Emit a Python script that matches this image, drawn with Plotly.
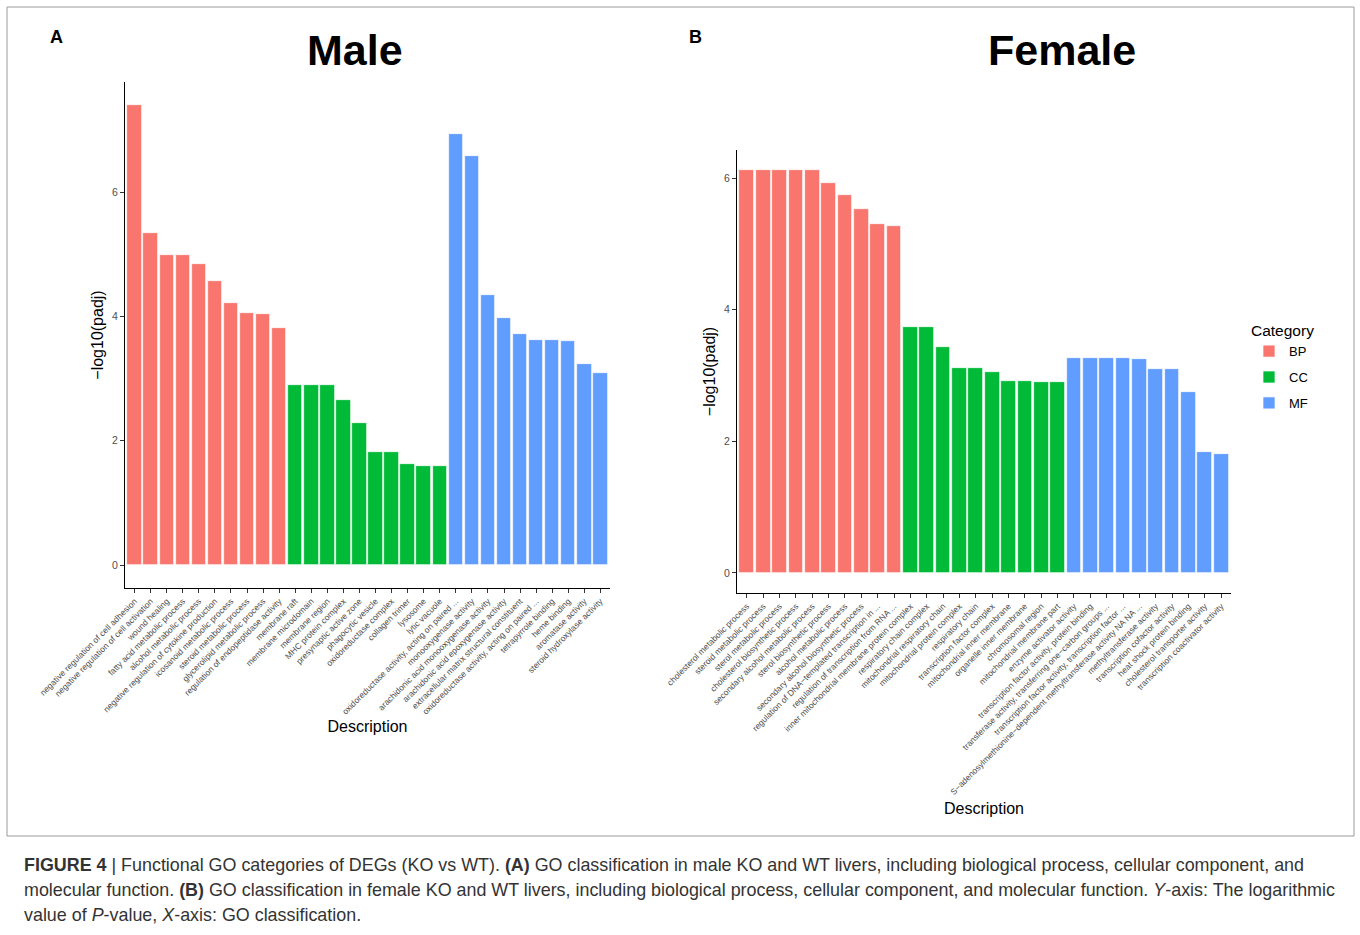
import plotly.graph_objects as go

# ---------------- data ----------------
categories = ["BP", "CC", "MF"]
cat_colors = {"BP": "#F8766D", "CC": "#00BA38", "MF": "#619CFF"}

male_bp_terms = ["negative regulation of cell adhesion", "negative regulation of cell activation",
                 "wound healing", "fatty acid metabolic process", "alcohol metabolic process",
                 "negative regulation of cytokine production", "icosanoid metabolic process",
                 "steroid metabolic process", "glycerolipid metabolic process",
                 "regulation of endopeptidase activity"]
male_bp_vals = [7.40, 5.34, 4.99, 4.99, 4.85, 4.57, 4.22, 4.06, 4.04, 3.81]

male_cc_terms = ["membrane raft", "membrane microdomain", "membrane region", "MHC protein complex",
                 "presynaptic active zone", "phagocytic vesicle", "oxidoreductase complex",
                 "collagen trimer", "lysosome", "lytic vacuole"]
male_cc_vals = [2.89, 2.89, 2.89, 2.66, 2.29, 1.81, 1.81, 1.63, 1.60, 1.60]

male_mf_terms = ["oxidoreductase activity, acting on paired ...", "monooxygenase activity",
                 "arachidonic acid monooxygenase activity", "arachidonic acid epoxygenase activity",
                 "extracellular matrix structural constituent",
                 "oxidoreductase activity, acting on paired ...", "tetrapyrrole binding",
                 "heme binding", "aromatase activity", "steroid hydroxylase activity"]
male_mf_vals = [6.93, 6.58, 4.35, 3.98, 3.71, 3.62, 3.62, 3.61, 3.23, 3.09]

female_bp_terms = ["cholesterol metabolic process", "steroid metabolic process", "sterol metabolic process",
                   "cholesterol biosynthetic process", "secondary alcohol metabolic process",
                   "sterol biosynthetic process", "alcohol metabolic process",
                   "secondary alcohol biosynthetic process",
                   "regulation of DNA\u2212templated transcription in ...",
                   "regulation of transcription from RNA ..."]
female_bp_vals = [6.12, 6.12, 6.12, 6.12, 6.12, 5.93, 5.74, 5.54, 5.30, 5.27]

female_cc_terms = ["inner mitochondrial membrane protein complex", "respiratory chain complex",
                   "mitochondrial respiratory chain", "mitochondrial protein complex", "respiratory chain",
                   "transcription factor complex", "mitochondrial inner membrane",
                   "organelle inner membrane", "chromosomal region", "mitochondrial membrane part"]
female_cc_vals = [3.74, 3.74, 3.43, 3.11, 3.11, 3.05, 2.92, 2.92, 2.91, 2.91]

female_mf_terms = ["enzyme activator activity", "transcription factor activity, protein binding",
                   "transferase activity, transferring one\u2212carbon groups ...",
                   "transcription factor activity, transcription factor ...",
                   "S\u2212adenosylmethionine\u2212dependent methyltransferase activity NA NA ...",
                   "methyltransferase activity", "transcription cofactor activity",
                   "heat shock protein binding", "cholesterol transporter activity",
                   "transcription coactivator activity"]
female_mf_vals = [3.27, 3.27, 3.27, 3.27, 3.25, 3.10, 3.10, 2.75, 1.84, 1.81]

y_ticks = [0, 2, 4, 6]

male = {"BP": (male_bp_terms, male_bp_vals), "CC": (male_cc_terms, male_cc_vals),
        "MF": (male_mf_terms, male_mf_vals)}
female = {"BP": (female_bp_terms, female_bp_vals), "CC": (female_cc_terms, female_cc_vals),
          "MF": (female_mf_terms, female_mf_vals)}

FONT = "Liberation Sans, Arial, Helvetica, sans-serif"
W, H = 1360, 935

fig = go.Figure()


def add_panel(panel, xa, ya, show_legend):
    terms_all = []
    idx = 0
    for cat in categories:
        terms, vals = panel[cat]
        xs = list(range(idx, idx + len(vals)))
        idx += len(vals)
        terms_all += terms
        fig.add_trace(go.Bar(
            x=xs, y=vals, name=cat, legendgroup=cat, showlegend=show_legend,
            marker=dict(color=cat_colors[cat], line=dict(color="white", width=0.7)),
            width=0.9, xaxis=xa, yaxis=ya,
        ))
    return terms_all


male_terms = add_panel(male, "x", "y", False)
female_terms = add_panel(female, "x2", "y2", True)

line_common = dict(showline=True, linecolor="black", linewidth=1, ticks="outside", ticklen=4,
                   tickcolor="#333333", showgrid=False, zeroline=False, automargin=False)
ytick_font = dict(family=FONT, size=10.5, color="#4D4D4D")
xtick_font = dict(family=FONT, size=8.5, color="#4D4D4D")
title_font = dict(family=FONT, size=16, color="black")

fig.update_layout(
    width=W, height=H, autosize=False,
    margin=dict(l=0, r=0, t=0, b=0, autoexpand=False),
    paper_bgcolor="white", plot_bgcolor="white",
    font=dict(family=FONT, color="black"),
    bargap=0,
    xaxis=dict(domain=[125 / W, 610 / W], anchor="y", range=[-0.6, 29.6],
               tickvals=list(range(len(male_terms))), ticktext=male_terms, tickangle=-45,
               tickfont=xtick_font,
               title=dict(text="Description", font=title_font, standoff=5),
               **line_common),
    yaxis=dict(domain=[1 - 588 / H, 1 - 82 / H], anchor="x", range=[-0.37, 7.77],
               tickvals=y_ticks, tickfont=ytick_font,
               title=dict(text="\u2212log10(padj)", font=title_font, standoff=4),
               **line_common),
    xaxis2=dict(domain=[737 / W, 1231 / W], anchor="y2", range=[-0.6, 29.6],
                tickvals=list(range(len(female_terms))), ticktext=female_terms, tickangle=-45,
                tickfont=xtick_font,
                title=dict(text="Description", font=title_font, standoff=6),
                **line_common),
    yaxis2=dict(domain=[1 - 593 / H, 1 - 150 / H], anchor="x2", range=[-0.306, 6.43],
                tickvals=y_ticks, tickfont=ytick_font,
                title=dict(text="\u2212log10(padj)", font=title_font, standoff=4),
                **line_common),
    legend=dict(x=1249 / W, y=1 - 316 / H, xanchor="left", yanchor="top",
                title=dict(text="Category", font=dict(family=FONT, size=15.5, color="black")),
                font=dict(family=FONT, size=13, color="black"), tracegroupgap=6,
                itemwidth=30, bgcolor="rgba(0,0,0,0)"),
)

ann = []
for txt, xpx, ypx, size in [("<b>Male</b>", 355, 50, 43), ("<b>Female</b>", 1062, 50, 43),
                            ("<b>A</b>", 56, 37, 18), ("<b>B</b>", 695, 37, 18)]:
    ann.append(dict(text=txt, x=xpx / W, y=1 - ypx / H, xref="paper", yref="paper",
                    xanchor="center", yanchor="middle", showarrow=False,
                    font=dict(size=size, color="black", family=FONT)))

caption_lines = [
    "<b>FIGURE 4</b> | Functional GO categories of DEGs (KO vs WT). <b>(A)</b> GO classification in male KO and WT livers, including biological process, cellular component, and",
    "molecular function. <b>(B)</b> GO classification in female KO and WT livers, including biological process, cellular component, and molecular function. <i>Y</i>-axis: The logarithmic",
    "value of <i>P</i>-value, <i>X</i>-axis: GO classification.",
]
for i, line in enumerate(caption_lines):
    ann.append(dict(text=line, x=22 / W, y=1 - (865 + 25 * i) / H, xref="paper", yref="paper",
                    xanchor="left", yanchor="middle", showarrow=False,
                    font=dict(size=17.9, color="#333333", family=FONT)))
fig.update_layout(annotations=ann)

fig.add_shape(type="rect", xref="paper", yref="paper", x0=7 / W, x1=1354 / W,
              y0=1 - 836 / H, y1=1 - 7 / H, line=dict(color="#9a9a9a", width=1))

fig.write_html("out.html", post_script="document.body.style.margin='0';",
               config={"displayModeBar": False})
